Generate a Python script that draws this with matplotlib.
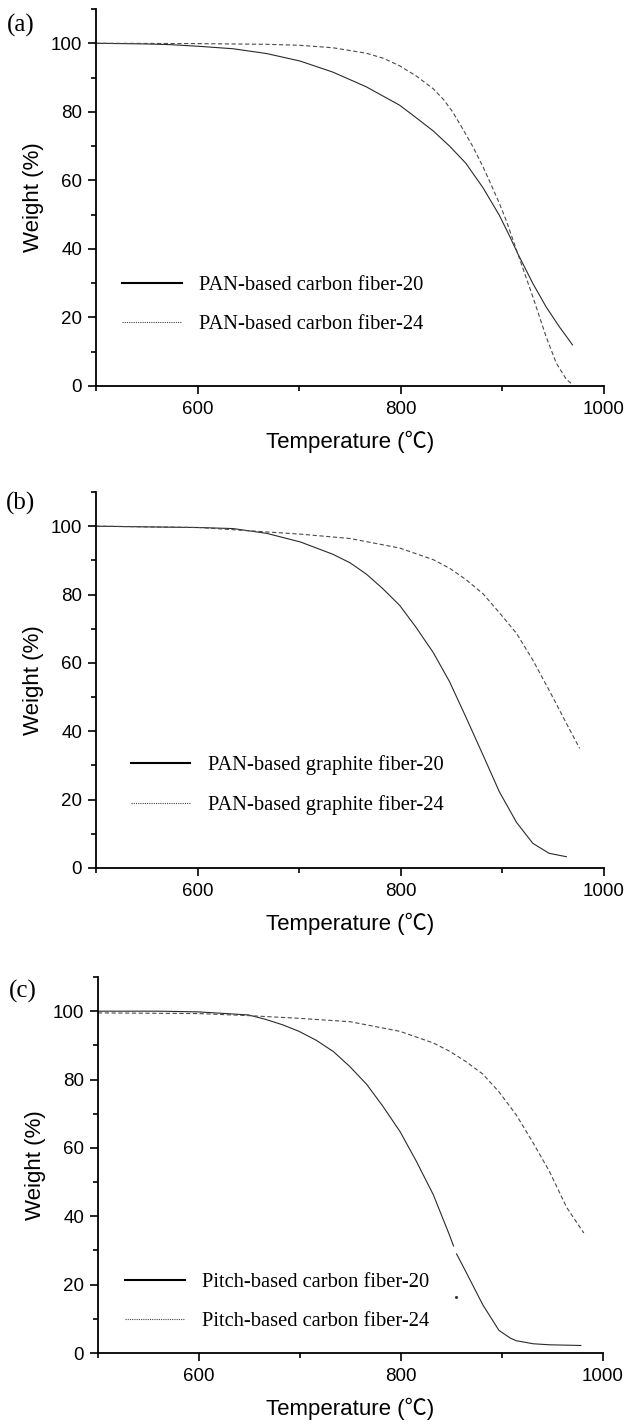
import numpy as np
import matplotlib
matplotlib.use("Agg")
import matplotlib.pyplot as plt
from matplotlib.lines import Line2D
from matplotlib.ticker import MultipleLocator

# (a) PAN-based carbon fiber
a_t20 = [500, 550, 573, 602, 635, 668, 701, 733, 766, 799, 815, 832, 848, 864, 881,
         897, 907, 915, 930, 943, 956, 969]
a_w20 = [100, 99.8, 99.6, 99.1, 98.4, 97.0, 94.8, 91.6, 87.3, 81.9, 78.3, 74.4, 70.0,
         65.0, 57.8, 49.8, 43.8, 38.7, 29.9, 23.1, 17.3, 12.0]
a_t24 = [500, 600, 668, 701, 733, 766, 783, 799, 815, 832, 842, 851, 861, 871, 881,
         887, 897, 904, 915, 930, 943, 953, 963, 969]
a_w24 = [100, 99.9, 99.7, 99.4, 98.7, 97.1, 95.6, 93.4, 90.5, 86.7, 83.6, 80.0, 75.0,
         69.8, 63.9, 60.0, 53.3, 48.1, 38.7, 26.0, 14.4, 6.7, 1.9, 0.5]

# (b) PAN-based graphite fiber
b_t20 = [500, 550, 602, 635, 668, 701, 733, 750, 766, 782, 799, 815, 832, 848, 864,
         881, 897, 914, 930, 946, 963]
b_w20 = [100, 99.8, 99.6, 99.3, 97.9, 95.4, 91.8, 89.3, 86.0, 81.8, 76.8, 70.4, 63.0,
         54.5, 44.2, 33.0, 22.3, 13.3, 7.2, 4.3, 3.3]
b_t24 = [500, 602, 700, 750, 799, 832, 848, 864, 881, 897, 914, 930, 946, 963, 976]
b_w24 = [100, 99.6, 97.7, 96.4, 93.6, 90.2, 87.7, 84.4, 80.2, 74.7, 68.6, 60.8, 52.0,
         42.3, 35.0]

# (c) Pitch-based carbon fiber (trace has a small break near 853)
c_t20 = [500, 560, 599, 649, 666, 683, 699, 716, 733, 749, 766, 782, 799, 815, 832,
         848, 852, np.nan, 855, 864, 881, 897, 908, 914, 931, 947, 978]
c_w20 = [100, 100, 99.8, 98.9, 97.6, 96.0, 94.1, 91.5, 88.2, 83.9, 78.6, 72.2, 64.8,
         56.2, 46.3, 34.5, 31.3, np.nan, 29.0, 23.9, 14.1, 6.6, 4.4, 3.6, 2.7, 2.4, 2.2]
c_stray_t = [854.6]
c_stray_w = [16.5]
c_t24 = [500, 600, 649, 700, 750, 799, 832, 848, 864, 881, 897, 914, 930, 947, 964, 981]
c_w24 = [99.5, 99.3, 98.7, 97.9, 96.9, 94.1, 90.7, 88.3, 85.3, 81.6, 76.4, 69.7, 61.9,
         53.1, 42.6, 35.1]

panel_labels = ["(a)", "(b)", "(c)"]
legend_labels = [
    ["PAN-based carbon fiber-20", "PAN-based carbon fiber-24"],
    ["PAN-based graphite fiber-20", "PAN-based graphite fiber-24"],
    ["Pitch-based carbon fiber-20", "Pitch-based carbon fiber-24"],
]

sans = ["Liberation Sans", "Noto Sans CJK SC", "DejaVu Sans"]
serif = ["Liberation Serif", "DejaVu Serif"]

fig = plt.figure(figsize=(6.29, 14.25), dpi=100)
W, H = 629, 1425

# axes boxes in pixels: left, top, right, bottom
boxes = [(96, 9, 604, 386), (96, 492, 604, 868), (98, 977, 603, 1353)]
leg_anchor = [(0.051, 0.292), (0.068, 0.299), (0.054, 0.213)]
label_pos = [(7, 25), (6, 503), (9, 991)]

series = [
    (a_t20, a_w20, a_t24, a_w24),
    (b_t20, b_w20, b_t24, b_w24),
    (c_t20, c_w20, c_t24, c_w24),
]

for i, (l, t, r, b) in enumerate(boxes):
    ax = fig.add_axes([l / W, 1 - b / H, (r - l) / W, (b - t) / H])
    t20, w20, t24, w24 = series[i]
    ax.plot(t20, w20, color="#2a2a2a", lw=0.8)
    ax.plot(t24, w24, color="#4a4a4a", lw=0.8, ls=(0, (3.8, 2.3)))
    if i == 2:
        ax.plot(c_stray_t, c_stray_w, ls="none", marker="o", ms=1.2, color="#333333")

    ax.set_xlim(500, 1000)
    ax.set_ylim(0, 110)
    ax.xaxis.set_major_locator(MultipleLocator(200))
    ax.xaxis.set_minor_locator(MultipleLocator(100))
    ax.yaxis.set_major_locator(MultipleLocator(20))
    ax.yaxis.set_minor_locator(MultipleLocator(10))
    for s in ["top", "right"]:
        ax.spines[s].set_visible(False)
    for s in ["left", "bottom"]:
        ax.spines[s].set_linewidth(1.3)
    ax.tick_params(which="major", direction="out", length=6, width=1.2, pad=4,
                   labelsize=13.5)
    ax.tick_params(which="minor", direction="out", length=3.5, width=1.2)
    ax.tick_params(axis="x", which="major", pad=5)
    for lab in ax.get_xticklabels() + ax.get_yticklabels():
        lab.set_fontfamily(sans)

    ax.set_xlabel("Temperature (℃)", fontsize=16, family=sans, labelpad=9)
    ax.set_ylabel("Weight (%)", fontsize=16, family=sans, labelpad=5)

    handles = [
        Line2D([], [], color="black", lw=1.5),
        Line2D([], [], color="#444444", lw=0.8, ls=(0, (1, 1))),
    ]
    ax.legend(handles, legend_labels[i], loc="upper left",
              bbox_to_anchor=leg_anchor[i], frameon=False,
              prop={"family": serif, "size": 14.8}, handlelength=2.9,
              handletextpad=0.85, labelspacing=0.94, borderpad=0,
              borderaxespad=0)

    fig.text(label_pos[i][0] / W, 1 - label_pos[i][1] / H, panel_labels[i],
             family=serif, fontsize=18, ha="left", va="center")

fig.savefig("out.png", dpi=100)
